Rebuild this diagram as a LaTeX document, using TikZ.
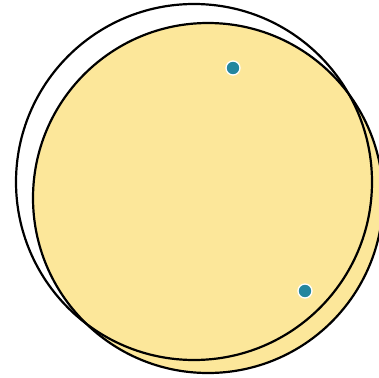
\documentclass[tikz,border=0pt]{standalone}
\usepackage{xcolor}
\usepackage{tikz}
\definecolor{sunyellow}{HTML}{FCE79A}
\definecolor{dotteal}{HTML}{23869F}
\tikzset{
  disc/.style={
    draw=black,
    fill=sunyellow,
    line width=2.2pt
  },
  ring/.style={
    draw=black,
    line width=2.2pt
  },
  spot/.style={
    circle,
    draw=white,
    fill=dotteal,
    line width=1.3pt,
    minimum size=14pt,
    inner sep=0pt
  }
}
\begin{document}
\begin{tikzpicture}[x=1pt,y=-1pt]
  \useasboundingbox (0,0) rectangle (379,377);
  \draw[disc] (208,198) circle[radius=175pt];
  \draw[ring] (194,182) circle[radius=178pt];

  \node[spot] (spottop) at (233,68) {};
  \node[spot] (spotlow) at (305,291) {};
\end{tikzpicture}
\end{document}
